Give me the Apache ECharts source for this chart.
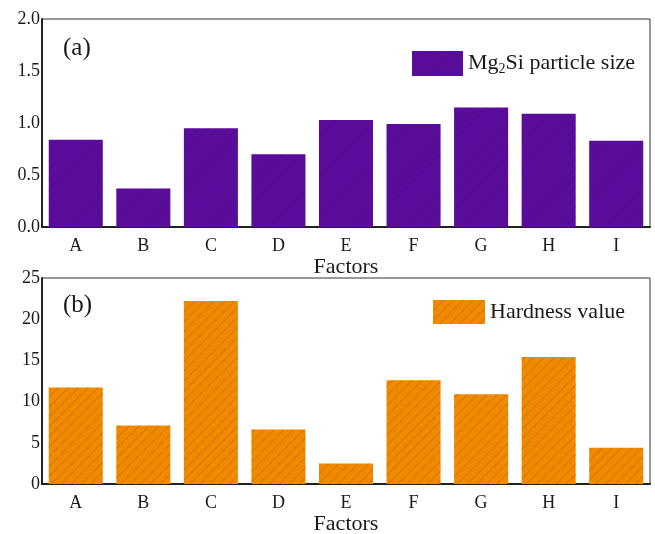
<!DOCTYPE html>
<html>
<head>
<meta charset="utf-8">
<script src="https://cdn.jsdelivr.net/npm/echarts@6/dist/echarts.min.js"></script>
<style>
  html, body { margin: 0; padding: 0; background: #fff; }
  #chart { width: 655px; height: 534px; }
</style>
</head>
<body>
<div id="chart"></div>
<script>
// factors on the x axis
const factors = ['A', 'B', 'C', 'D', 'E', 'F', 'G', 'H', 'I'];
// (a) Mg2Si particle size
const particleSize = [0.84, 0.37, 0.95, 0.70, 1.03, 0.99, 1.15, 1.09, 0.83];
// (b) hardness value
const hardness = [11.7, 7.1, 22.2, 6.6, 2.5, 12.6, 10.9, 15.4, 4.4];
const sizeTicks = { min: 0, max: 2, interval: 0.5 };
const hardTicks = { min: 0, max: 25, interval: 5 };

const purple = '#5a0c9e';
const orange = '#f28a00';
const font = 'Liberation Serif';
const textColor = '#1a1a1a';

// faint "/" hatching like the original figure
const hatch = {
  symbol: 'rect',
  symbolSize: 1,
  rotation: -Math.PI / 4,
  dashArrayX: [1, 0],
  dashArrayY: [1, 6],
  color: 'rgba(60,30,0,0.2)',
};

const chart = echarts.init(document.getElementById('chart'));

function xAxis(gridIndex) {
  return {
    type: 'category',
    gridIndex,
    data: factors,
    name: 'Factors',
    nameLocation: 'middle',
    nameGap: 28,
    nameTextStyle: { fontFamily: font, fontSize: 22, color: textColor },
    axisLine: { lineStyle: { color: '#222', width: 2 } },
    axisTick: { show: false },
    axisLabel: { fontFamily: font, fontSize: 18, color: textColor, margin: 10 },
  };
}

function yAxis(gridIndex, ticks, digits) {
  return {
    type: 'value',
    gridIndex,
    min: ticks.min,
    max: ticks.max,
    interval: ticks.interval,
    axisLine: { show: true, lineStyle: { color: '#222', width: 2 } },
    axisTick: { show: false },
    splitLine: { show: false },
    axisLabel: {
      fontFamily: font, fontSize: 18, color: textColor, margin: 2,
      formatter: (v) => v.toFixed(digits),
    },
  };
}

const option = {
  animation: false,
  aria: { enabled: true, decal: { show: true } },
  grid: [
    { left: 42, top: 19, width: 608, height: 208, outerBoundsMode: 'none', show: true, borderColor: '#333', borderWidth: 1 },
    { left: 42, top: 278, width: 608, height: 206, outerBoundsMode: 'none', show: true, borderColor: '#333', borderWidth: 1 },
  ],
  xAxis: [xAxis(0), xAxis(1)],
  yAxis: [yAxis(0, sizeTicks, 1), yAxis(1, hardTicks, 0)],
  legend: [
    {
      data: ['size'],
      left: 407, top: 46,
      icon: 'rect',
      itemWidth: 51, itemHeight: 25, itemGap: 6,
      formatter: () => '{a|Mg}{s|2}{a|Si particle size}',
      textStyle: {
        rich: {
          a: { fontFamily: font, fontSize: 22, color: textColor },
          s: { fontFamily: font, fontSize: 14, color: textColor, verticalAlign: 'bottom', padding: [12, 0, 0, 0] },
        },
      },
    },
    {
      data: ['hard'],
      left: 428, top: 295,
      icon: 'rect',
      itemWidth: 52, itemHeight: 24, itemGap: 7,
      textStyle: { fontFamily: font, fontSize: 22, color: textColor },
      formatter: () => 'Hardness value',
    },
  ],
  graphic: [
    { type: 'text', left: 63, top: 36, style: { text: '(a)', font: '25px "Liberation Serif"', fill: textColor } },
    { type: 'text', left: 63, top: 293, style: { text: '(b)', font: '25px "Liberation Serif"', fill: textColor } },
  ],
  series: [
    {
      name: 'size',
      type: 'bar',
      xAxisIndex: 0,
      yAxisIndex: 0,
      data: particleSize,
      barCategoryGap: '20%',
      itemStyle: { color: purple, decal: hatch },
    },
    {
      name: 'hard',
      type: 'bar',
      xAxisIndex: 1,
      yAxisIndex: 1,
      data: hardness,
      barCategoryGap: '20%',
      itemStyle: { color: orange, decal: hatch },
    },
  ],
};

chart.setOption(option);
</script>
</body>
</html>
